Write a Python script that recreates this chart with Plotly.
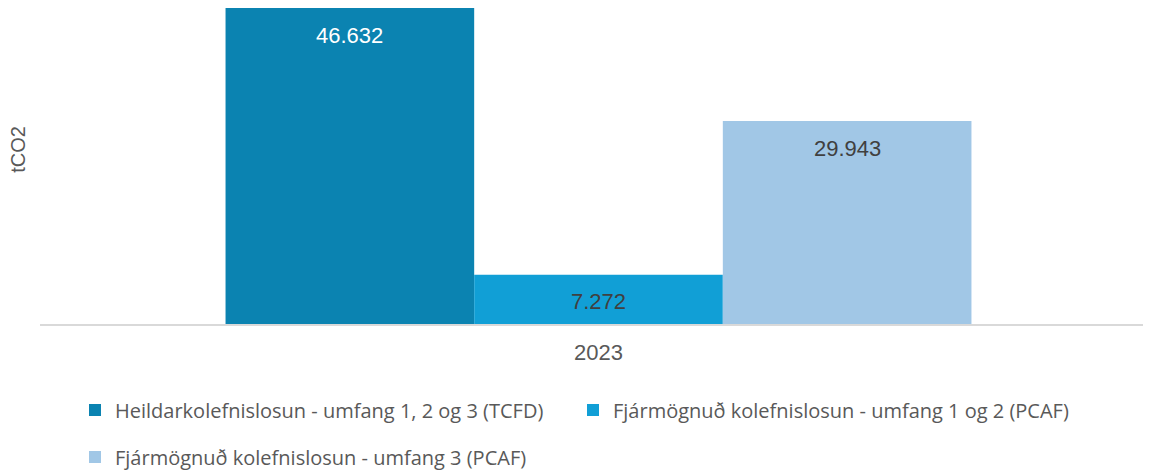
import plotly.graph_objects as go

categories = ["2023"]
series_names = [
    "Heildarkolefnislosun - umfang 1, 2 og 3 (TCFD)",
    "Fjármögnuð kolefnislosun - umfang 1 og 2 (PCAF)",
    "Fjármögnuð kolefnislosun - umfang 3 (PCAF)",
]
series_values = [[46632], [7272], [29943]]
colors = ["#0B83B1", "#119FD6", "#A1C7E6"]
label_colors = ["#FFFFFF", "#404040", "#404040"]
y_title = "tCO2"

# the page body adds an 8px margin, so the figure is drawn 8px smaller
OFF = 8
W, H = 1151 - OFF, 470 - OFF
PL, PR, PT, PB = 40 - OFF, 1150 - OFF, 8 - OFF, 324.5 - OFF  # plot area in figure px
PW, PH = PR - PL, PB - PT

bargap = 0.328
n = len(series_names)

fig = go.Figure()
legend_ids = ["legend", "legend", "legend2"]
for i, (name, vals) in enumerate(zip(series_names, series_values)):
    fig.add_trace(go.Bar(
        x=categories, y=vals, name=name,
        marker=dict(color=colors[i], line=dict(width=0)),
        legend=legend_ids[i],
        hoverinfo="skip",
    ))

# data labels placed inside the top of each bar
bw = (1 - bargap) / n
for i, vals in enumerate(series_values):
    for j, v in enumerate(vals):
        fig.add_annotation(
            x=j - (1 - bargap) / 2 + bw * (i + 0.5), y=v, xref="x", yref="y",
            text=f"{v:,}".replace(",", "."), showarrow=False,
            xanchor="center", yanchor="middle", yshift=-27,
            font=dict(family="Liberation Sans, Arial", size=22, color=label_colors[i]),
        )

fig.add_annotation(
    x=(18 - OFF - PL) / PW, y=(PB - (150 - OFF)) / PH, xref="paper", yref="paper",
    text=y_title, showarrow=False, textangle=-90, xanchor="center", yanchor="middle",
    font=dict(family="Liberation Sans, Arial", size=20, color="#595959"),
)

legend_font = dict(family="Open Sans", size=20, color="#595959")
LX = 67
fig.update_layout(
    width=W, height=H,
    margin=dict(l=PL, r=W - PR, t=PT, b=H - PB, autoexpand=False),
    paper_bgcolor="white", plot_bgcolor="white",
    barmode="group", bargap=bargap, bargroupgap=0,
    showlegend=True,
    xaxis=dict(
        type="category", range=[-0.5 - 3.5 / PW, 0.5 - 3.5 / PW],
        showline=True, linecolor="#D9D9D9", linewidth=2,
        ticks="", showgrid=False, zeroline=False, ticklabelstandoff=8,
        tickfont=dict(family="Liberation Sans, Arial", size=22, color="#595959"),
    ),
    yaxis=dict(range=[0, 46632], showticklabels=False, showgrid=False,
               zeroline=False, showline=False, ticks=""),
    legend=dict(orientation="h", xref="container", yref="container",
                x=LX / W, y=(H - (410 - OFF)) / H, xanchor="left", yanchor="middle",
                font=legend_font, entrywidth=453, entrywidthmode="pixels",
                bgcolor="rgba(0,0,0,0)"),
    legend2=dict(orientation="h", xref="container", yref="container",
                 x=LX / W, y=(H - (457 - OFF)) / H, xanchor="left", yanchor="middle",
                 font=legend_font, bgcolor="rgba(0,0,0,0)"),
)

fig.write_html("out.html")
